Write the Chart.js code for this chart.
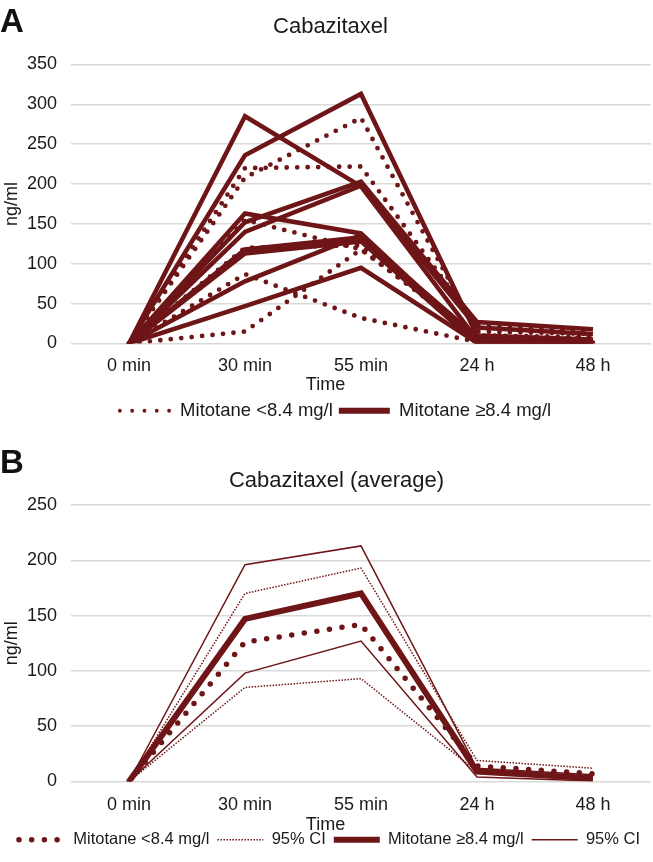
<!DOCTYPE html>
<html>
<head>
<meta charset="utf-8">
<script src="https://cdn.jsdelivr.net/npm/chart.js@4.4.1/dist/chart.umd.min.js"></script>
<style>
  body { margin: 0; background: #fff; font-family: "Liberation Sans", Arial, sans-serif; }
  .panel { position: relative; width: 653px; height: 431px; }
  .letra { position: absolute; left: 0; font-weight: bold; font-size: 33px; line-height: 1; color: #111; }
</style>
</head>
<body>
<div class="panel">
  <div class="letra" style="top:4px">A</div>
  <canvas id="graficoA"></canvas>
</div>
<div class="panel">
  <div class="letra" style="top:14px">B</div>
  <canvas id="graficoB"></canvas>
</div>
<script>
// categorias del eje x
const tiempos = ['0 min', '30 min', '55 min', '24 h', '48 h']

// A: pacientes con mitotano >= 8.4 mg/l (lineas continuas)
const altoA1 = [0, 285, 197, 5, 2]
const altoA2 = [0, 236, 313, 10, 5]
const altoA3 = [0, 152, 203, 27, 18]
const altoA4 = [0, 140, 198, 20, 12]
const altoA5 = [0, 163, 138, 2, 0]
const altoA6 = [0, 118, 133, 8, 4]
const altoA7 = [0, 113, 128, 0, 0]
const altoA8 = [0, 78, 136, 3, 1]
const altoA9 = [0, 47, 95, 1, 0]

// A: pacientes con mitotano < 8.4 mg/l (lineas punteadas)
const bajoA1 = [0, 208, 283, 15, 12]
const bajoA2 = [0, 220, 222, 22, 15]
const bajoA3 = [0, 155, 118, 10, 8]
const bajoA4 = [0, 120, 123, 5, 3]
const bajoA5 = [0, 87, 32, 2, 1]
const bajoA6 = [0, 15, 118, 8, 6]

// B: promedios e IC 95%
const bajoMedia = [0, 126, 142, 14, 7]
const bajoIcSup = [0, 170, 193, 19, 12]
const bajoIcInf = [0, 85, 93, 9, 3]
const altoMedia = [0, 147, 170, 9, 3]
const altoIcSup = [0, 196, 213, 12, 6]
const altoIcInf = [0, 98, 127, 4, 0.5]

const ticksA = [0, 50, 100, 150, 200, 250, 300, 350]
const ticksB = [0, 50, 100, 150, 200, 250]

const colorVino = '#6e1517'
const colorTexto = '#1a1a1a'
const colorGrilla = '#d9d9d9'

Chart.defaults.font.family = '"Liberation Sans", Arial, sans-serif'
Chart.defaults.color = colorTexto

// corre titulo, subtitulo y leyenda unos px a la derecha (el original no esta centrado)
const correrCajas = {
    id: 'correrCajas',
    afterLayout(chart, args, opts) {
        const mover = (caja, dx) => {
            if (!caja || !dx) return
            caja.left += dx
            caja.right += dx
        }
        mover(chart.titleBlock, opts.titulo)
        mover(chart.$subtitle, opts.subtitulo)
        mover(chart.legend, opts.leyenda)
    }
}

const linea = (datos, ancho, guiones, punta) => ({
    data: datos,
    borderColor: colorVino,
    backgroundColor: colorVino,
    borderWidth: ancho,
    borderDash: guiones,
    borderCapStyle: punta,
    borderJoinStyle: 'miter',
    pointRadius: 0,
    pointHoverRadius: 0,
    tension: 0,
    fill: false
})

const muestra = (texto, ancho, guiones, punta) => ({
    text: texto,
    pointStyle: 'line',
    strokeStyle: colorVino,
    fillStyle: colorVino,
    fontColor: colorTexto,
    lineWidth: ancho,
    lineDash: guiones,
    lineCap: punta,
    hidden: false
})

const ejes = (ticks, altoEjeX, padX) => ({
    x: {
        offset: true,
        grid: { display: false, drawTicks: false },
        border: { display: false },
        ticks: { padding: padX, font: { size: 18 }, color: colorTexto },
        afterFit: (eje) => { eje.height = altoEjeX }
    },
    y: {
        min: ticks[0],
        max: ticks[ticks.length - 1],
        afterBuildTicks: (eje) => { eje.ticks = ticks.map(v => ({ value: v })) },
        grid: { color: colorGrilla, lineWidth: 1.5, drawTicks: false },
        border: { display: false },
        ticks: { padding: 14, font: { size: 18 }, color: colorTexto },
        title: { display: true, text: 'ng/ml', font: { size: 18 }, color: colorTexto, padding: { top: 1, bottom: 0 } },
        afterFit: (eje) => { eje.width = 71 }
    }
})

const grupoAlto = [altoA1, altoA2, altoA3, altoA4, altoA5, altoA6, altoA7, altoA8, altoA9]
const grupoBajo = [bajoA1, bajoA2, bajoA3, bajoA4, bajoA5, bajoA6]

new Chart(document.querySelector('#graficoA'), {
    type: 'line',
    data: {
        labels: tiempos,
        datasets: [
            ...grupoBajo.map(d => linea(d, 4.8, [0, 10.5], 'round')),
            ...grupoAlto.map(d => linea(d, 4.5, [], 'butt'))
        ]
    },
    plugins: [correrCajas],
    options: {
        responsive: true,
        maintainAspectRatio: false,
        animation: false,
        layout: { padding: { left: 0, right: 2, top: 0, bottom: 1 } },
        scales: ejes(ticksA, 30, 12),
        plugins: {
            tooltip: { enabled: false },
            correrCajas: { titulo: 5, subtitulo: 7, leyenda: 10 },
            title: {
                display: true, text: 'Cabazitaxel', color: colorTexto,
                font: { size: 22, weight: 'normal' }, padding: { top: 14, bottom: 24 }
            },
            subtitle: {
                display: true, text: 'Time', position: 'bottom', weight: 500, color: colorTexto,
                font: { size: 18, lineHeight: 1 }, padding: { top: 3, bottom: 1 }
            },
            legend: {
                position: 'bottom',
                labels: {
                    usePointStyle: true,
                    pointStyleWidth: 51,
                    padding: 6,
                    font: { size: 18.5 },
                    color: colorTexto,
                    generateLabels: () => [
                        muestra('Mitotane <8.4 mg/l', 3.8, [0, 12.3], 'round'),
                        muestra('Mitotane ≥8.4 mg/l', 6, [], 'butt')
                    ]
                }
            }
        }
    }
})

new Chart(document.querySelector('#graficoB'), {
    type: 'line',
    data: {
        labels: tiempos,
        datasets: [
            linea(altoMedia, 6, [], 'butt'),
            linea(bajoMedia, 5.5, [0, 12.7], 'round'),
            linea(altoIcSup, 1.5, [], 'butt'),
            linea(altoIcInf, 1.5, [], 'butt'),
            linea(bajoIcSup, 1.5, [1.5, 1.5], 'butt'),
            linea(bajoIcInf, 1.5, [1.5, 1.5], 'butt')
        ]
    },
    plugins: [correrCajas],
    options: {
        responsive: true,
        maintainAspectRatio: false,
        animation: false,
        layout: { padding: { left: 0, right: 2, top: 0, bottom: 4 } },
        scales: ejes(ticksB, 32, 13),
        plugins: {
            tooltip: { enabled: false },
            correrCajas: { titulo: 11, subtitulo: 8, leyenda: 4 },
            title: {
                display: true, text: 'Cabazitaxel (average)', color: colorTexto,
                font: { size: 22, weight: 'normal' }, padding: { top: 36.8, bottom: 10.8 }
            },
            subtitle: {
                display: true, text: 'Time', position: 'bottom', weight: 500, color: colorTexto,
                font: { size: 18, lineHeight: 1 }, padding: { top: 3, bottom: -11 }
            },
            legend: {
                position: 'bottom',
                labels: {
                    usePointStyle: true,
                    pointStyleWidth: 46,
                    padding: 8,
                    font: { size: 16.5 },
                    color: colorTexto,
                    generateLabels: () => [
                        muestra('Mitotane <8.4 mg/l', 5.5, [0, 12.7], 'round'),
                        muestra('95% CI', 1.5, [1.5, 1.5], 'butt'),
                        muestra('Mitotane ≥8.4 mg/l', 6, [], 'butt'),
                        muestra('95% CI', 1.5, [], 'butt')
                    ]
                }
            }
        }
    }
})
</script>
</body>
</html>
